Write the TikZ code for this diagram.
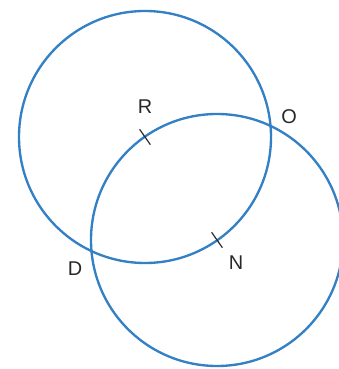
\documentclass[tikz,border=0pt]{standalone}
\usepackage{fontspec}
\setmainfont{Liberation Sans}
\usepackage{tikz}
\usetikzlibrary{intersections, calc}
\definecolor{circblue}{RGB}{52,128,196}
\definecolor{labgray}{RGB}{40,40,40}

\begin{document}
\begin{tikzpicture}[x=0.03cm, y=0.03cm,
    circ/.style={circblue, line width=2pt},
    tick/.style={labgray, line width=1pt},
    lab/.style={text=labgray, font=\fontsize{17}{20}\selectfont, inner sep=0pt}]

    % ==========================================
    % VARIABLE DEFINITIONS
    % ==========================================
    \pgfmathsetmacro{\Rad}{126}   % Radius of both circles
    \def\Tick{0.28cm}             % Half length of the cross marks
    % ==========================================

    \useasboundingbox (0,0) rectangle (338,369);

    % Centres
    \coordinate (R) at (145,232);
    \coordinate (N) at (217,129);

    % The two circles (each passes through the other's centre)
    \draw[circ, name path=cR] (R) circle (\Rad);
    \draw[circ, name path=cN] (N) circle (\Rad);

    % Intersection points
    \path[name intersections={of=cR and cN, by={P1,P2}}];
    \coordinate (O) at (P1);
    \coordinate (D) at (P2);

    % Cross marks at the centres (along the radius of the other circle)
    \draw[tick] ($(R)!\Tick!(N)$) -- ($(R)!-\Tick!(N)$);
    \draw[tick] ($(N)!\Tick!(R)$) -- ($(N)!-\Tick!(R)$);

    % Labels
    \node[lab] (labR) at (145,262) {R};
    \node[lab] (labN) at (236,106) {N};
    \node[lab] (labD) at (75,100) {D};
    \node[lab] (labO) at (289,252) {O};

\end{tikzpicture}
\end{document}
